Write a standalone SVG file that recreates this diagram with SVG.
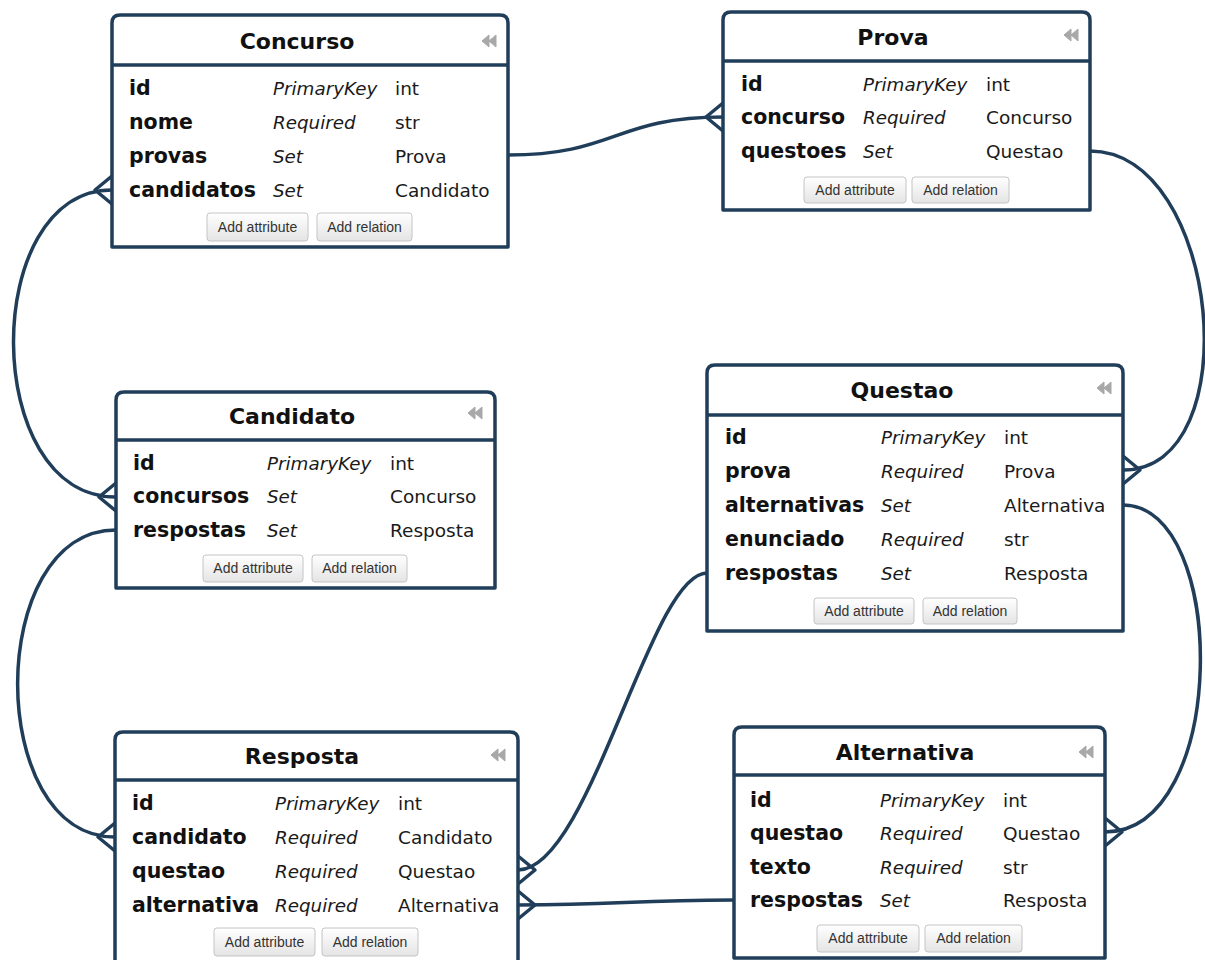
<svg xmlns="http://www.w3.org/2000/svg" width="1205" height="960" viewBox="0 0 1205 960">
<defs>
<linearGradient id="btng" x1="0" y1="0" x2="0" y2="1">
<stop offset="0" stop-color="#ffffff"/>
<stop offset="1" stop-color="#e4e4e4"/>
</linearGradient>
<style>
.box{fill:#ffffff;stroke:#203e5a;stroke-width:3.5;stroke-linejoin:round}
.hdr{stroke:#203e5a;stroke-width:3.5}
.ttl{font-family:"DejaVu Sans",Verdana,sans-serif;font-weight:bold;font-size:22px;fill:#111;text-anchor:middle}
.nm{font-family:"DejaVu Sans",Verdana,sans-serif;font-weight:bold;font-size:20.5px;fill:#111}
.kd{font-family:"DejaVu Sans",Verdana,sans-serif;font-style:italic;font-size:18.3px;fill:#1a1a1a}
.tp{font-family:"DejaVu Sans",Verdana,sans-serif;font-size:18.5px;fill:#1a1a1a}
.btn{fill:url(#btng);stroke:#c4c4c4;stroke-width:1}
.bt{font-family:"Liberation Sans",Arial,sans-serif;font-size:14px;fill:#333;text-anchor:middle}
.ico{fill:#a8a8a8;stroke:#a8a8a8;stroke-width:1;stroke-linejoin:round}
.cn{fill:none;stroke:#203e5a;stroke-width:3.5;stroke-linecap:round;stroke-linejoin:round}
</style>
</defs>
<rect width="1205" height="960" fill="#ffffff"/>

<g id="connectors">
<path class="cn" d="M508,155 C615,155 615,117 723,117"/>
<path class="cn" d="M723,103 L706,117 L723,131"/>

<path class="cn" d="M112,190 C-20,190 -20,497 116,497"/>
<path class="cn" d="M112,176 L95,190 L112,204"/>
<path class="cn" d="M116,483 L99,497 L116,511"/>

<path class="cn" d="M116,530 C-15,530 -15,837 115,837"/>
<path class="cn" d="M115,823 L98,837 L115,851"/>

<path class="cn" d="M1090,151 C1220,151 1250,470 1123,470"/>
<path class="cn" d="M1123,456 L1140,470 L1123,484"/>

<path class="cn" d="M1123,505 C1229,505 1229,832 1105,832"/>
<path class="cn" d="M1105,818 L1122,832 L1105,846"/>

<path class="cn" d="M707,573 C650,573 590,870 518,870"/>
<path class="cn" d="M518,856 L535,870 L518,884"/>

<path class="cn" d="M734,900 C630,900 620,905 518,905"/>
<path class="cn" d="M518,891 L535,905 L518,919"/>
</g>

<g id="node-concurso">
<path class="box" d="M112,247 L112,23 Q112,15 120,15 L500,15 Q508,15 508,23 L508,247 Z"/>
<line class="hdr" x1="112" y1="65" x2="508" y2="65"/>
<text class="ttl" x="297" y="49">Concurso</text>
<polygon class="ico" points="489,35 482,41 489,47"/><polygon class="ico" points="496,35 489,41 496,47"/>
<text class="nm" x="129" y="95">id</text><text class="kd" x="273" y="95">PrimaryKey</text><text class="tp" x="395" y="95">int</text>
<text class="nm" x="129" y="129">nome</text><text class="kd" x="273" y="129">Required</text><text class="tp" x="395" y="129">str</text>
<text class="nm" x="129" y="163">provas</text><text class="kd" x="273" y="163">Set</text><text class="tp" x="395" y="163">Prova</text>
<text class="nm" x="129" y="197">candidatos</text><text class="kd" x="273" y="197">Set</text><text class="tp" x="395" y="197">Candidato</text>
<rect class="btn" x="207" y="213" width="101" height="28" rx="3"/><text class="bt" x="257.5" y="232">Add attribute</text>
<rect class="btn" x="317" y="213" width="95" height="28" rx="3"/><text class="bt" x="364.5" y="232">Add relation</text>
</g>

<g id="node-prova">
<path class="box" d="M723,210 L723,20 Q723,12 731,12 L1082,12 Q1090,12 1090,20 L1090,210 Z"/>
<line class="hdr" x1="723" y1="61" x2="1090" y2="61"/>
<text class="ttl" x="893" y="45">Prova</text>
<polygon class="ico" points="1071,29 1064,35 1071,41"/><polygon class="ico" points="1078,29 1071,35 1078,41"/>
<text class="nm" x="741" y="91">id</text><text class="kd" x="863" y="91">PrimaryKey</text><text class="tp" x="986" y="91">int</text>
<text class="nm" x="741" y="124">concurso</text><text class="kd" x="863" y="124">Required</text><text class="tp" x="986" y="124">Concurso</text>
<text class="nm" x="741" y="158">questoes</text><text class="kd" x="863" y="158">Set</text><text class="tp" x="986" y="158">Questao</text>
<rect class="btn" x="804" y="177" width="102" height="26" rx="3"/><text class="bt" x="855" y="195">Add attribute</text>
<rect class="btn" x="912" y="177" width="97" height="26" rx="3"/><text class="bt" x="960.5" y="195">Add relation</text>
</g>

<g id="node-candidato">
<path class="box" d="M116,588 L116,400 Q116,392 124,392 L487,392 Q495,392 495,400 L495,588 Z"/>
<line class="hdr" x1="116" y1="440" x2="495" y2="440"/>
<text class="ttl" x="292" y="424">Candidato</text>
<polygon class="ico" points="475,407 468,413 475,419"/><polygon class="ico" points="482,407 475,413 482,419"/>
<text class="nm" x="133" y="470">id</text><text class="kd" x="267" y="470">PrimaryKey</text><text class="tp" x="390" y="470">int</text>
<text class="nm" x="133" y="503">concursos</text><text class="kd" x="267" y="503">Set</text><text class="tp" x="390" y="503">Concurso</text>
<text class="nm" x="133" y="537">respostas</text><text class="kd" x="267" y="537">Set</text><text class="tp" x="390" y="537">Resposta</text>
<rect class="btn" x="203" y="555" width="100" height="27" rx="3"/><text class="bt" x="253" y="573">Add attribute</text>
<rect class="btn" x="312" y="555" width="95" height="27" rx="3"/><text class="bt" x="359.5" y="573">Add relation</text>
</g>

<g id="node-questao">
<path class="box" d="M707,631 L707,373 Q707,365 715,365 L1115,365 Q1123,365 1123,373 L1123,631 Z"/>
<line class="hdr" x1="707" y1="415" x2="1123" y2="415"/>
<text class="ttl" x="902" y="398">Questao</text>
<polygon class="ico" points="1104,382 1097,388 1104,394"/><polygon class="ico" points="1111,382 1104,388 1111,394"/>
<text class="nm" x="725" y="444">id</text><text class="kd" x="881" y="444">PrimaryKey</text><text class="tp" x="1004" y="444">int</text>
<text class="nm" x="725" y="478">prova</text><text class="kd" x="881" y="478">Required</text><text class="tp" x="1004" y="478">Prova</text>
<text class="nm" x="725" y="512">alternativas</text><text class="kd" x="881" y="512">Set</text><text class="tp" x="1004" y="512">Alternativa</text>
<text class="nm" x="725" y="546">enunciado</text><text class="kd" x="881" y="546">Required</text><text class="tp" x="1004" y="546">str</text>
<text class="nm" x="725" y="580">respostas</text><text class="kd" x="881" y="580">Set</text><text class="tp" x="1004" y="580">Resposta</text>
<rect class="btn" x="814" y="598" width="100" height="26" rx="3"/><text class="bt" x="864" y="616">Add attribute</text>
<rect class="btn" x="923" y="598" width="94" height="26" rx="3"/><text class="bt" x="970" y="616">Add relation</text>
</g>

<g id="node-resposta">
<path class="box" d="M115,975 L115,740 Q115,732 123,732 L510,732 Q518,732 518,740 L518,975 Z"/>
<line class="hdr" x1="115" y1="780" x2="518" y2="780"/>
<text class="ttl" x="302" y="764">Resposta</text>
<polygon class="ico" points="498,749 491,755 498,761"/><polygon class="ico" points="505,749 498,755 505,761"/>
<text class="nm" x="132" y="810">id</text><text class="kd" x="275" y="810">PrimaryKey</text><text class="tp" x="398" y="810">int</text>
<text class="nm" x="132" y="844">candidato</text><text class="kd" x="275" y="844">Required</text><text class="tp" x="398" y="844">Candidato</text>
<text class="nm" x="132" y="878">questao</text><text class="kd" x="275" y="878">Required</text><text class="tp" x="398" y="878">Questao</text>
<text class="nm" x="132" y="912">alternativa</text><text class="kd" x="275" y="912">Required</text><text class="tp" x="398" y="912">Alternativa</text>
<rect class="btn" x="214" y="928" width="101" height="28" rx="3"/><text class="bt" x="264.5" y="947">Add attribute</text>
<rect class="btn" x="322" y="928" width="96" height="28" rx="3"/><text class="bt" x="370" y="947">Add relation</text>
</g>

<g id="node-alternativa">
<path class="box" d="M734,958 L734,735 Q734,727 742,727 L1097,727 Q1105,727 1105,735 L1105,958 Z"/>
<line class="hdr" x1="734" y1="775" x2="1105" y2="775"/>
<text class="ttl" x="905" y="760">Alternativa</text>
<polygon class="ico" points="1086,746 1079,752 1086,758"/><polygon class="ico" points="1093,746 1086,752 1093,758"/>
<text class="nm" x="750" y="807">id</text><text class="kd" x="880" y="807">PrimaryKey</text><text class="tp" x="1003" y="807">int</text>
<text class="nm" x="750" y="840">questao</text><text class="kd" x="880" y="840">Required</text><text class="tp" x="1003" y="840">Questao</text>
<text class="nm" x="750" y="874">texto</text><text class="kd" x="880" y="874">Required</text><text class="tp" x="1003" y="874">str</text>
<text class="nm" x="750" y="907">respostas</text><text class="kd" x="880" y="907">Set</text><text class="tp" x="1003" y="907">Resposta</text>
<rect class="btn" x="817" y="925" width="102" height="27" rx="3"/><text class="bt" x="868" y="943">Add attribute</text>
<rect class="btn" x="925" y="925" width="97" height="27" rx="3"/><text class="bt" x="973.5" y="943">Add relation</text>
</g>
</svg>
